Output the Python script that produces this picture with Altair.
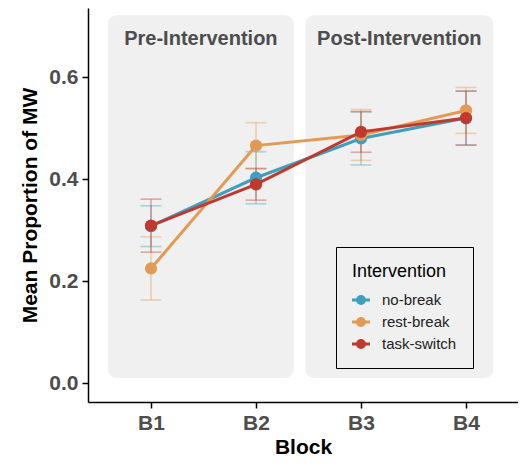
import altair as alt
import pandas as pd

blocks = [1, 2, 3, 4]
groups = ["no-break", "rest-break", "task-switch"]
colors = ["#3E9FBF", "#E39A55", "#C0392F"]

mean_no_break = [0.308, 0.403, 0.480, 0.520]
mean_rest_break = [0.225, 0.466, 0.487, 0.535]
mean_task_switch = [0.309, 0.390, 0.493, 0.520]

se_no_break = [0.040, 0.051, 0.052, 0.053]
se_rest_break = [0.062, 0.045, 0.050, 0.045]
se_task_switch = [0.052, 0.031, 0.040, 0.053]

panel_names = ["Pre-Intervention", "Post-Intervention"]
panel_start = [0.59, 2.47]
panel_end = [2.36, 4.26]

rows = []
for g, m, s in zip(groups, [mean_no_break, mean_rest_break, mean_task_switch],
                   [se_no_break, se_rest_break, se_task_switch]):
    for b, mv, sv in zip(blocks, m, s):
        rows.append({"Block": b, "Intervention": g, "mean": mv, "lo": mv - sv, "hi": mv + sv})
df = pd.DataFrame(rows)

panels = pd.DataFrame({
    "name": panel_names,
    "x0": panel_start,
    "x1": panel_end,
    "xc": [(a + b) / 2 for a, b in zip(panel_start, panel_end)],
    "y0": [0.01, 0.01],
    "y1": [0.722, 0.722],
    "ty": [0.675, 0.675],
})

xscale = alt.Scale(domain=[0.4, 4.495], nice=False, zero=False)
yscale = alt.Scale(domain=[-0.037, 0.736], nice=False, zero=False)
cscale = alt.Scale(domain=groups, range=colors)

bg = alt.Chart(panels).mark_rect(fill="#F0F0F0", cornerRadius=9).encode(
    x=alt.X("x0:Q", scale=xscale),
    x2="x1:Q",
    y=alt.Y("y0:Q", scale=yscale),
    y2="y1:Q",
)

ptitle = alt.Chart(panels).mark_text(
    font="Liberation Sans", fontWeight="bold", fontSize=20, color="#4D4D4D", baseline="middle"
).encode(
    x=alt.X("xc:Q", scale=xscale),
    y=alt.Y("ty:Q", scale=yscale),
    text="name:N",
)

base = alt.Chart(df)

legend = alt.Legend(
    title="Intervention",
    orient="none",
    legendX=248,
    legendY=239,
    padding=16,
    strokeColor="black",
    fillColor="#F0F0F0",
    titleFont="Liberation Sans",
    titleFontSize=18,
    titleFontWeight="normal",
    titleColor="black",
    titlePadding=10,
    labelFont="Liberation Sans",
    labelFontSize=15,
    labelColor="#222222",
    labelOffset=12,
    symbolType="M-1,-0.17L1,-0.17L1,0.17L-1,0.17ZM-0.55,0A0.55,0.55,0,1,1,0.55,0A0.55,0.55,0,1,1,-0.55,0Z",
    symbolSize=324,
    symbolStrokeWidth=0,
    symbolOpacity=1,
    rowPadding=5,
    offset=0,
)

layers = []
for g, c in zip(groups, colors):
    sub = base.transform_filter(alt.datum.Intervention == g)
    layers.append(sub.mark_rule(strokeWidth=1.6, opacity=0.4, color=c).encode(
        x=alt.X("Block:Q", scale=xscale),
        y=alt.Y("lo:Q", scale=yscale),
        y2="hi:Q",
    ))
    for col in ["lo", "hi"]:
        layers.append(sub.mark_tick(orient="horizontal", size=21, thickness=1.6, opacity=0.4, color=c).encode(
            x=alt.X("Block:Q", scale=xscale),
            y=alt.Y(f"{col}:Q", scale=yscale),
        ))
for g, c in zip(groups, colors):
    sub = base.transform_filter(alt.datum.Intervention == g)
    layers.append(sub.mark_line(strokeWidth=3, color=c).encode(
        x=alt.X("Block:Q", scale=xscale),
        y=alt.Y("mean:Q", scale=yscale),
    ))
    layers.append(sub.mark_circle(size=150, opacity=1).encode(
        x=alt.X("Block:Q", scale=xscale),
        y=alt.Y("mean:Q", scale=yscale),
        color=alt.Color("Intervention:N", scale=cscale, legend=legend),
    ))

chart = alt.layer(bg, ptitle, *layers).encode(
    x=alt.X(
        "Block:Q",
        scale=xscale,
        title="Block",
        axis=alt.Axis(values=[1, 2, 3, 4], labelExpr="'B' + datum.value", grid=False),
    ),
    y=alt.Y(
        "mean:Q",
        scale=yscale,
        title="Mean Proportion of MW",
        axis=alt.Axis(values=[0, 0.2, 0.4, 0.6], format=".1f", grid=False),
    ),
).properties(
    width=430,
    height=394,
    autosize=alt.AutoSizeParams(type="none"),
    padding={"left": 80, "top": 0, "right": 0, "bottom": 56},
).configure_view(stroke=None).configure_axis(
    domainColor="black",
    domainWidth=1.5,
    tickColor="black",
    tickWidth=1.5,
    tickSize=6,
    labelFont="Liberation Sans",
    labelFontSize=21,
    labelFontWeight="bold",
    labelColor="#4D4D4D",
    labelPadding=4,
    titleFont="Liberation Sans",
    titleFontSize=21,
    titleFontWeight="bold",
    titleColor="black",
).configure_axisX(titlePadding=3).configure_axisY(titlePadding=8)

chart.save("out.html", embed_options={"renderer": "svg", "actions": False})
